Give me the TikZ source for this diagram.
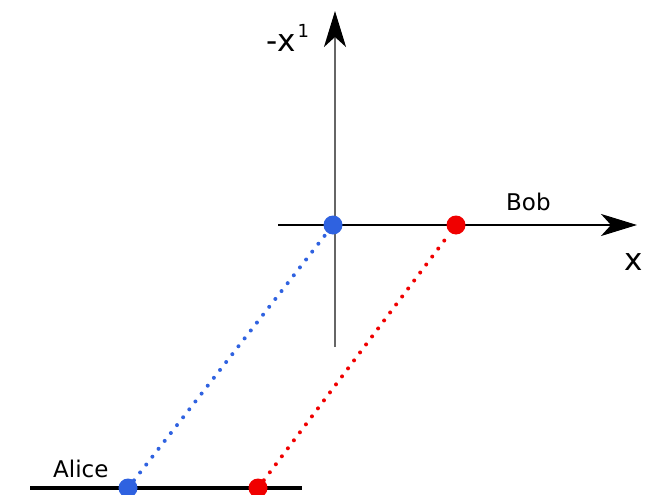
\documentclass[tikz,border=0pt]{standalone}
\usepackage{fontspec}
\setmainfont{DejaVu Sans}
\usetikzlibrary{arrows.meta}
\definecolor{dotblue}{HTML}{2F62E0}
\definecolor{dotred}{HTML}{F00000}
\tikzset{
  axis/.style={line width=2.5pt,-{Stealth[length=36pt,width=22pt,inset=10pt,color=black]}},
  dotline/.style={line width=4pt,line cap=round,dash pattern=on 0pt off 10pt},
  event/.style={circle,inner sep=0pt,minimum size=19pt},
  lbl/.style={font=\fontsize{23}{27}\selectfont,inner sep=0pt}
}
\begin{document}
\begin{tikzpicture}[x=1pt,y=-1pt]
\useasboundingbox (0,0) rectangle (646,495);
% axes
\coordinate (vb) at (335,347);
\coordinate (vt) at (335,11);
\coordinate (hl) at (278,225);
\coordinate (hr) at (637,225);
\draw[axis,draw=black!60] (vb) -- (vt);
\draw[axis] (hl) -- (hr);
% bottom line
\coordinate (bl) at (30,488);
\coordinate (br) at (302,488);
\draw[line width=3.5pt] (bl) -- (br);
% events
\node[event,fill=dotblue] (b1) at (333,225) {};
\node[event,fill=dotred] (r1) at (456,225) {};
\node[event,fill=dotblue] (b0) at (128,488) {};
\node[event,fill=dotred] (r0) at (258,488) {};
\draw[dotline,draw=dotblue] (b0) -- (b1);
\draw[dotline,draw=dotred] (r0) -- (r1);
% labels
\node[lbl,anchor=base west] (alice) at (53,477) {Alice};
\node[lbl,anchor=base west] (bob) at (506,210) {Bob};
\node[inner sep=0pt,anchor=base west,font=\fontsize{31}{36}\selectfont] (ylab) at (266,52) {-x\hspace{2pt}\raisebox{14pt}{\fontsize{18}{20}\selectfont 1}};
\node[inner sep=0pt,anchor=base west,font=\fontsize{31}{36}\selectfont] (xlab) at (624,270) {x\hspace{2pt}\raisebox{14pt}{\fontsize{18}{20}\selectfont 1}};
\end{tikzpicture}
\end{document}
